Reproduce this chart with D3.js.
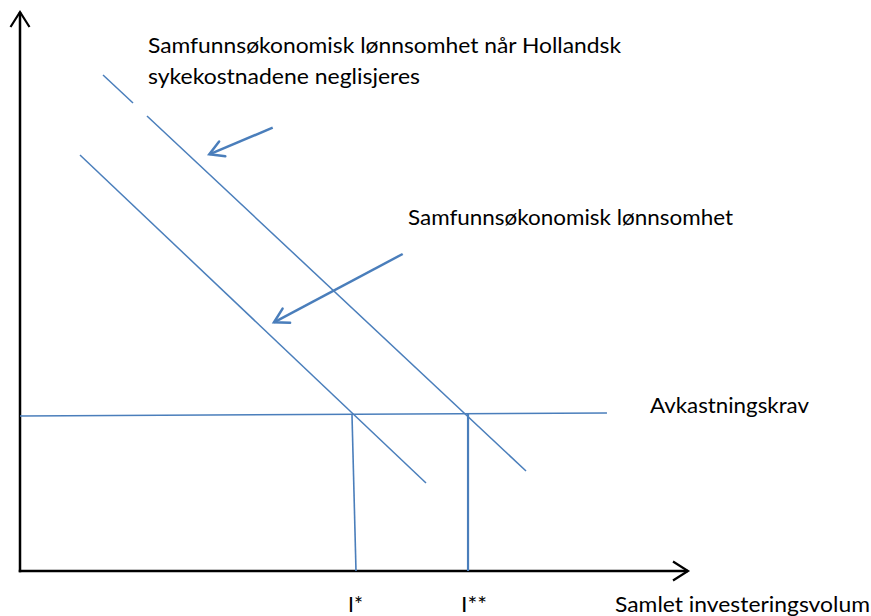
<!DOCTYPE html>
<html>
<head>
<meta charset="utf-8">
<script src="https://cdn.jsdelivr.net/npm/d3@7"></script>
<style>
  html, body { margin: 0; padding: 0; background: #fff; }
  svg { display: block; }
  text { font-family: Lato, "Open Sans", sans-serif; fill: #000; }
</style>
</head>
<body>
<svg id="chart" width="871" height="616"></svg>
<script>
// ---- data (abstract units: x = investment volume, y = return) ----
const upperLineA = [[1.243, 8.873], [1.692, 8.372]];
const upperLineB = [[1.901, 8.140], [7.575, 1.789]];
const lowerLine  = [[0.898, 7.442], [6.078, 1.574]];
const requirementLine = [[0, 2.773], [8.787, 2.826]];
const dropIStar  = [[4.970, 2.791], [5.030, 0]];
const dropIStar2 = [[6.707, 2.809], [6.707, 0]];
const pointer1 = [[3.783, 7.930], [2.834, 7.454]];
const pointer2 = [[5.729, 5.671], [3.802, 4.449]];

const labels = [
  { text: "Samfunnsøkonomisk lønnsomhet når Hollandsk", x: 1.916, y: 9.27, w: 473 },
  { text: "sykekostnadene neglisjeres", x: 1.916, y: 8.71, w: 272 },
  { text: "Samfunnsøkonomisk lønnsomhet", x: 5.808, y: 6.19, w: 325 },
  { text: "Avkastningskrav", x: 9.431, y: 2.83, w: 159 }
];
const tickLabels = [
  { text: "I*", x: 4.910, w: 15 },
  { text: "I**", x: 6.602, w: 26 },
  { text: "Samlet investeringsvolum", x: 8.907, w: 255 }
];

// ---- scales ----
const svg = d3.select("#chart");
const x = d3.scaleLinear().domain([0, 10]).range([20, 688]);
const y = d3.scaleLinear().domain([0, 10]).range([571, 12]);

const blue = "#4a7ebb";

// markers
const defs = svg.append("defs");
defs.append("marker")
  .attr("id", "blueHead").attr("markerUnits", "userSpaceOnUse")
  .attr("viewBox", "-20 -12 24 24").attr("refX", 0).attr("refY", 0)
  .attr("markerWidth", 24).attr("markerHeight", 24).attr("orient", "auto")
  .append("path").attr("d", "M-14,-8 L0,0 L-14,8")
  .attr("fill", "none").attr("stroke", blue).attr("stroke-width", 2.5)
  .attr("stroke-linecap", "round").attr("stroke-linejoin", "miter");
defs.append("marker")
  .attr("id", "blackHead").attr("markerUnits", "userSpaceOnUse")
  .attr("viewBox", "-20 -14 24 28").attr("refX", 0).attr("refY", 0)
  .attr("markerWidth", 24).attr("markerHeight", 28).attr("orient", "auto")
  .append("path").attr("d", "M-15,-9.5 L0,0 L-15,9.5")
  .attr("fill", "none").attr("stroke", "#000").attr("stroke-width", 2.2)
  .attr("stroke-linejoin", "miter");

const line = d3.line().x(d => x(d[0])).y(d => y(d[1]));

// axes (domain only, no ticks)
const xAxis = d3.axisBottom(x).tickValues([]).tickSizeOuter(0);
const yAxis = d3.axisLeft(y).tickValues([]).tickSizeOuter(0);
const gx = svg.append("g").attr("transform", `translate(0,${y(0)})`).call(xAxis);
const gy = svg.append("g").attr("transform", `translate(${x(0)},0)`).call(yAxis);
[gx, gy].forEach(g => g.select(".domain").attr("stroke", "#000").attr("stroke-width", 2.5));
gx.select(".domain").attr("d", `M${x(0) - 1.25},0H${x(10)}`).attr("marker-end", "url(#blackHead)");
gy.select(".domain").attr("d", `M0,${y(0) + 1.25}V${y(10)}`).attr("marker-end", "url(#blackHead)");

// curves
const thin = [
  [upperLineA, 1.5], [upperLineB, 1.5], [lowerLine, 1.5],
  [requirementLine, 1.6], [dropIStar, 1.6], [dropIStar2, 2.2]
];
thin.forEach(([d, w]) => {
  svg.append("path").datum(d).attr("d", line)
    .attr("fill", "none").attr("stroke", blue).attr("stroke-width", w);
});

[pointer1, pointer2].forEach(d => {
  svg.append("path").datum(d).attr("d", line)
    .attr("fill", "none").attr("stroke", blue).attr("stroke-width", 2.5)
    .attr("marker-end", "url(#blueHead)");
});

// texts
labels.forEach(l => {
  svg.append("text").attr("x", x(l.x)).attr("y", y(l.y))
    .attr("font-size", 21).attr("textLength", l.w)
    .attr("lengthAdjust", "spacingAndGlyphs").text(l.text);
});
tickLabels.forEach(l => {
  svg.append("text").attr("x", x(l.x)).attr("y", 612)
    .attr("font-size", 21).attr("textLength", l.w)
    .attr("lengthAdjust", "spacingAndGlyphs").text(l.text);
});
</script>
</body>
</html>
